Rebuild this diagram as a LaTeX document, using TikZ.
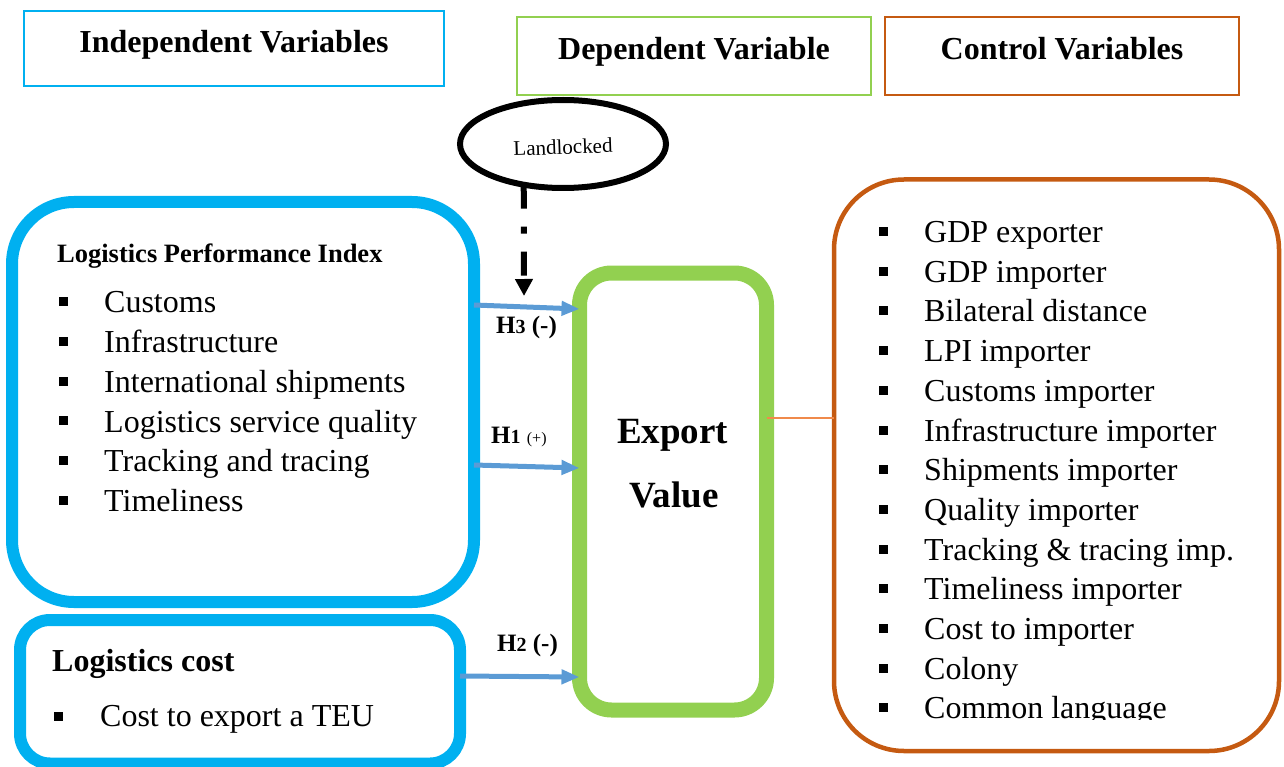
\documentclass[tikz,border=0pt]{standalone}
\usepackage{fontspec}
\setmainfont{Liberation Serif}
\usetikzlibrary{arrows.meta,shapes.geometric}
\definecolor{cyanb}{HTML}{00B0F0}
\definecolor{greenb}{HTML}{92D050}
\definecolor{orangeb}{HTML}{C55A11}
\definecolor{orangel}{HTML}{F08A4B}
\definecolor{arrowb}{HTML}{5B9BD5}
\newcommand{\fsz}[1]{\fontsize{#1}{#1}\selectfont}
\begin{document}
\begin{tikzpicture}[x=1pt,y=-1pt,
  box/.style={draw, outer sep=0pt, inner sep=0pt},
  hdrtext/.style={anchor=base, inner sep=0pt, font=\fsz{32}\bfseries},
  item/.style={anchor=base west, inner sep=0pt, font=\fsz{32}},
  bul/.style={fill=black, inner sep=0pt, outer sep=0pt, minimum size=9pt},
  harrow/.style={draw=arrowb, line width=5pt, -{Triangle[length=18pt,width=14pt]}},
  hlabel/.style={anchor=base west, inner sep=0pt, font=\fsz{25}\bfseries}]
\useasboundingbox (0,0) rectangle (1284,767);

% header boxes
\node[box, draw=cyanb, line width=2pt, minimum width=420.5pt, minimum height=75pt] (ivb) at (233.75,49) {};
\node[hdrtext] (ivt) at (234,53) {Independent Variables};
\node[box, draw=greenb, line width=2pt, minimum width=354pt, minimum height=78pt] (dvb) at (694,56) {};
\node[hdrtext] (dvt) at (694,60) {Dependent Variable};
\node[box, draw=orangeb, line width=2pt, minimum width=354pt, minimum height=78pt] (cvb) at (1062,56) {};
\node[hdrtext] (cvt) at (1062,60) {Control Variables};

% main boxes
\node[box, draw=cyanb, line width=12pt, rounded corners=62pt, minimum width=462pt, minimum height=400pt] (lpi) at (243,402) {};
\node[box, draw=cyanb, line width=12pt, rounded corners=30pt, minimum width=440pt, minimum height=143.5pt] (cost) at (240,691.75) {};
\node[box, draw=greenb, line width=15pt, rounded corners=32pt, minimum width=187pt, minimum height=437pt] (ev) at (673,491.5) {};
\node[box, draw=orangeb, line width=4.5pt, rounded corners=70pt, minimum width=445pt, minimum height=571.5pt] (cv) at (1056.5,465.25) {};

% Landlocked
\node[box, ellipse, draw=black, line width=6pt, minimum width=206pt, minimum height=88pt] (ll) at (563,144) {};
\node[inner sep=0pt, font=\fsz{21}, rotate=2] (llt) at (563,147) {Landlocked};
\coordinate (lltip) at (524,296);
\draw[line width=6pt, dash pattern=on 24pt off 18pt on 7pt off 18pt, -{Triangle[length=17pt,width=17pt]}] (ll.226) -- (lltip);

% LPI content
\node[anchor=base west, inner sep=0pt, font=\fsz{26.5}\bfseries] (lpit) at (57,262) {Logistics Performance Index};
\foreach \t [count=\i] in {Customs, Infrastructure, International shipments, Logistics service quality, Tracking and tracing, Timeliness} {
  \node[item] (lpi\i) at ({104},{312.7+39.8*(\i-1)}) {\t};
  \node[bul] (lpib\i) at ({63.5},{301.5+39.8*(\i-1)}) {};
}

% Logistics cost content
\node[anchor=base west, inner sep=0pt, font=\fsz{32}\bfseries] (costt) at (52,671.7) {Logistics cost};
\node[item] (cost1) at (100,726.7) {Cost to export a TEU};
\node[bul] (costb1) at (58,716) {};

% Export value
\node[anchor=base, inner sep=0pt, font=\fsz{37}\bfseries] (ex1) at (672.5,443) {Export};
\node[anchor=base, inner sep=0pt, font=\fsz{37}\bfseries] (ex2) at (674,507) {Value};

% Control content
\foreach \t [count=\i] in {GDP exporter, GDP importer, Bilateral distance, LPI importer, Customs importer, Infrastructure importer, Shipments importer, Quality importer, Tracking \& tracing imp., Timeliness importer, Cost to importer, Colony} {
  \node[item] (cv\i) at ({924},{242.5+39.7*(\i-1)}) {\t};
  \node[bul] (cvb\i) at ({883},{231.5+39.7*(\i-1)}) {};
}
\node[bul] (cvb13) at (883,707.9) {};
\begin{scope}
  \clip (900,680) rectangle (1270,719.3);
  \node[item] (cv13) at (924,718.9) {Common language};
\end{scope}

% connectors
\draw[orangel, line width=1.5pt] (ev.east |- 0,418) -- (cv.west |- 0,418);
\draw[harrow] (lpi.east |- 0,305) -- (ev.west |- 0,309);
\draw[harrow] (lpi.east |- 0,465) -- (ev.west |- 0,468);
\draw[harrow] (cost.east |- 0,676) -- (ev.west |- 0,677);

% labels
\node[hlabel] (h3) at (496,333) {H{\fsz{20}3} (-)};
\node[hlabel] (h1) at (491,443) {H{\fsz{20}1} {\fsz{16}\mdseries (+)}};
\node[hlabel] (h2) at (497,651) {H{\fsz{20}2} (-)};
\end{tikzpicture}
\end{document}
